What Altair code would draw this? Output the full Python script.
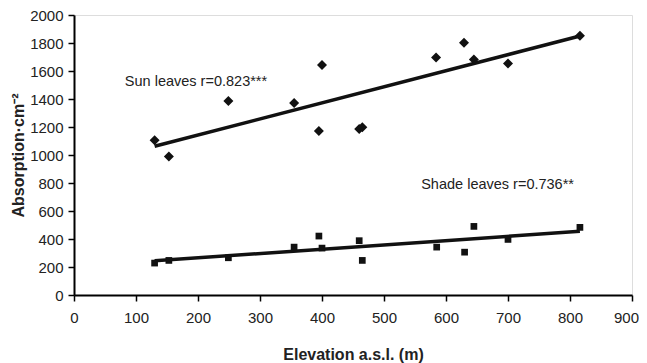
import altair as alt
import pandas as pd

elev_sun = [130, 153, 249, 355, 395, 400, 460, 465, 584, 629, 645, 700, 816]
abs_sun = [1105, 990, 1385, 1372, 1172, 1642, 1185, 1198, 1697, 1802, 1683, 1654, 1852]
elev_shade = [130, 153, 249, 355, 395, 400, 460, 465, 585, 630, 645, 700, 816]
abs_shade = [228, 247, 266, 342, 421, 335, 388, 247, 342, 306, 490, 397, 483]

labels = ["Sun leaves r=0.823***", "Shade leaves r=0.736**"]
label_x = [82, 560]
label_y = [1520, 783]

sun = pd.DataFrame({"x": elev_sun, "y": abs_sun})
shade = pd.DataFrame({"x": elev_shade, "y": abs_shade})
ann = pd.DataFrame({"t": labels, "x": label_x, "y": label_y})

FONT = "Liberation Sans"

xs = alt.X("x:Q", scale=alt.Scale(domain=[0, 900], nice=False),
           axis=alt.Axis(title="Elevation a.s.l. (m)", values=list(range(0, 901, 100)),
                         format="d", labelFlush=False,
                         labelOffset={"condition": {"test": "datum.value >= 900", "value": -6}, "value": 0},
                         grid=False, domainColor="black", domainWidth=2,
                         tickColor="black", tickWidth=1.5, tickSize=6,
                         labelFontSize=15, labelPadding=9, labelColor="#222",
                         titleFontSize=16, titleFontWeight="bold", titleColor="#222",
                         titleBaseline="middle", titleY=59, labelFont=FONT, titleFont=FONT))
ys = alt.Y("y:Q", scale=alt.Scale(domain=[0, 2000], nice=False),
           axis=alt.Axis(title="Absorption·cm⁻²", values=list(range(0, 2001, 200)),
                         format="d", labelFlush=False,
                         grid=False, domainColor="black", domainWidth=2,
                         tickColor="black", tickWidth=1.5, tickSize=6,
                         labelFontSize=15, labelPadding=5, labelColor="#222",
                         titleFontSize=16, titleFontWeight="bold", titleColor="#222",
                         titleBaseline="middle", titleX=-56, titleY=140, titleAngle=-90,
                         labelFont=FONT, titleFont=FONT))

sun_pts = alt.Chart(sun).mark_point(shape="diamond", filled=True, color="#111", size=100, opacity=1).encode(x=xs, y=ys)
shade_pts = alt.Chart(shade).mark_point(shape="square", filled=True, color="#111", size=45, opacity=1).encode(x=xs, y=ys)
sun_line = alt.Chart(sun).transform_regression("x", "y").mark_line(color="#111", strokeWidth=3.5).encode(x=xs, y=ys)
shade_line = alt.Chart(shade).transform_regression("x", "y").mark_line(color="#111", strokeWidth=3.5).encode(x=xs, y=ys)
text = alt.Chart(ann).mark_text(align="left", baseline="middle", fontSize=14.5, font=FONT, color="#222").encode(
    x=xs, y=ys, text="t:N")

chart = alt.layer(sun_line, shade_line, sun_pts, shade_pts, text).properties(
    width=558, height=280,
    autosize=alt.AutoSizeParams(type="none"),
    padding={"left": 66, "top": 7, "right": 7, "bottom": 68},
).configure_view(stroke="#8a9096", strokeWidth=1.5).configure(background="white")

chart.save("out.html", embed_options={"renderer": "svg", "actions": False})
